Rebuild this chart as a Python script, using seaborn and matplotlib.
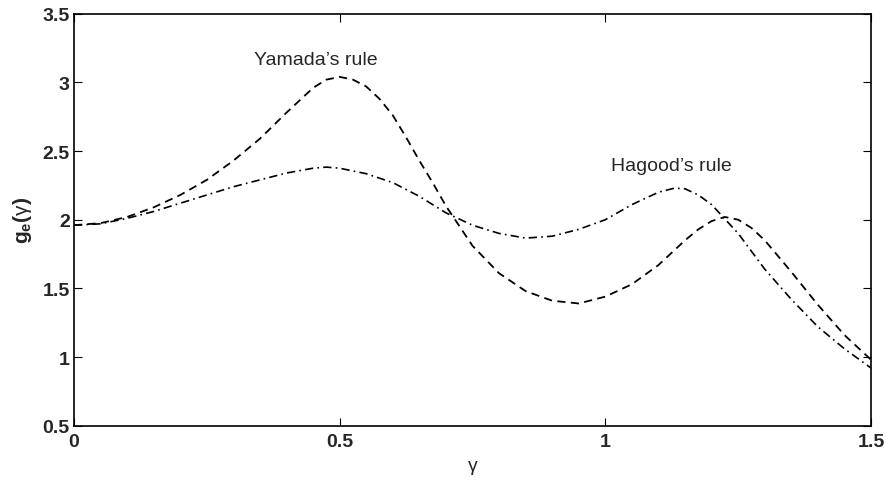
import numpy as np
import pandas as pd
import matplotlib
matplotlib.use("Agg")
import matplotlib.pyplot as plt
import seaborn as sns

# --- data ---
gamma_yamada = [0.00, 0.05, 0.10, 0.15, 0.20, 0.25, 0.30, 0.35, 0.40, 0.425, 0.45, 0.475, 0.50,
                0.525, 0.55, 0.575, 0.60, 0.625, 0.65, 0.675, 0.70, 0.75, 0.80, 0.85, 0.90,
                0.95, 1.00, 1.05, 1.10, 1.15, 1.175, 1.20, 1.225, 1.25, 1.275, 1.30, 1.35,
                1.40, 1.45, 1.50]
g_yamada = [1.96, 1.975, 2.02, 2.09, 2.18, 2.29, 2.43, 2.59, 2.78, 2.87, 2.96, 3.02, 3.04,
            3.02, 2.97, 2.88, 2.76, 2.60, 2.43, 2.27, 2.10, 1.81, 1.61, 1.48, 1.41,
            1.39, 1.44, 1.53, 1.67, 1.85, 1.93, 1.99, 2.02, 2.00, 1.94, 1.85, 1.62,
            1.38, 1.16, 0.98]

gamma_hagood = [0.00, 0.05, 0.10, 0.15, 0.20, 0.25, 0.30, 0.35, 0.40, 0.45, 0.475, 0.50,
                0.55, 0.60, 0.65, 0.70, 0.75, 0.80, 0.85, 0.90, 0.95, 1.00, 1.05, 1.10,
                1.13, 1.15, 1.175, 1.20, 1.25, 1.30, 1.35, 1.40, 1.45, 1.50]
g_hagood = [1.96, 1.97, 2.01, 2.06, 2.12, 2.18, 2.24, 2.29, 2.34, 2.375, 2.383, 2.375,
            2.335, 2.27, 2.17, 2.05, 1.96, 1.90, 1.866, 1.88, 1.93, 2.00, 2.11, 2.20,
            2.23, 2.225, 2.18, 2.11, 1.90, 1.64, 1.42, 1.22, 1.06, 0.92]

x_ticks = [0, 0.5, 1, 1.5]
x_tick_labels = ["0", "0.5", "1", "1.5"]
y_ticks = [0.5, 1, 1.5, 2, 2.5, 3, 3.5]
y_tick_labels = ["0.5", "1", "1.5", "2", "2.5", "3", "3.5"]

df_y = pd.DataFrame({"gamma": gamma_yamada, "g": g_yamada})
df_h = pd.DataFrame({"gamma": gamma_hagood, "g": g_hagood})

sns.set_theme(style="white")
plt.rcParams["font.family"] = ["Liberation Sans", "DejaVu Sans"]
plt.rcParams["mathtext.fontset"] = "custom"
plt.rcParams["mathtext.rm"] = "Liberation Sans"
plt.rcParams["mathtext.bf"] = "Liberation Sans:bold"
plt.rcParams["mathtext.it"] = "Liberation Sans"

fig = plt.figure(figsize=(8.87, 4.81), dpi=100)
ax = fig.add_axes([0.0834, 0.1129, 0.8986, 0.8565])

sns.lineplot(data=df_y, x="gamma", y="g", ax=ax, color="black", lw=1.3,
             linestyle=(0, (4.5, 3.0)), sort=False, legend=False)
sns.lineplot(data=df_h, x="gamma", y="g", ax=ax, color="black", lw=1.2,
             linestyle=(0, (5.0, 2.5, 1.0, 2.5)), sort=False, legend=False)

ax.set_xlim(0, 1.5)
ax.set_ylim(0.5, 3.5)
ax.set_xticks(x_ticks)
ax.set_xticklabels(x_tick_labels, fontweight="bold", fontsize=14)
ax.set_yticks(y_ticks)
ax.set_yticklabels(y_tick_labels, fontweight="bold", fontsize=14)
ax.tick_params(direction="in", length=6, width=0.8, color="black",
               top=True, right=True, bottom=True, left=True)
ax.tick_params(axis="x", pad=5)
ax.tick_params(axis="y", pad=3)

for s in ax.spines.values():
    s.set_visible(True)
    s.set_color("black")
    s.set_linewidth(1.2)

ax.set_xlabel("γ", fontsize=14, labelpad=5)
ax.set_ylabel(r"$\mathbf{g_e(}\gamma\mathbf{)}$", fontsize=15, labelpad=6)

ax.text(0.456, 3.167, "Yamada’s rule", ha="center", va="center", fontsize=14)
ax.text(1.124, 2.395, "Hagood’s rule", ha="center", va="center", fontsize=14)

fig.savefig("out.png", dpi=100)
